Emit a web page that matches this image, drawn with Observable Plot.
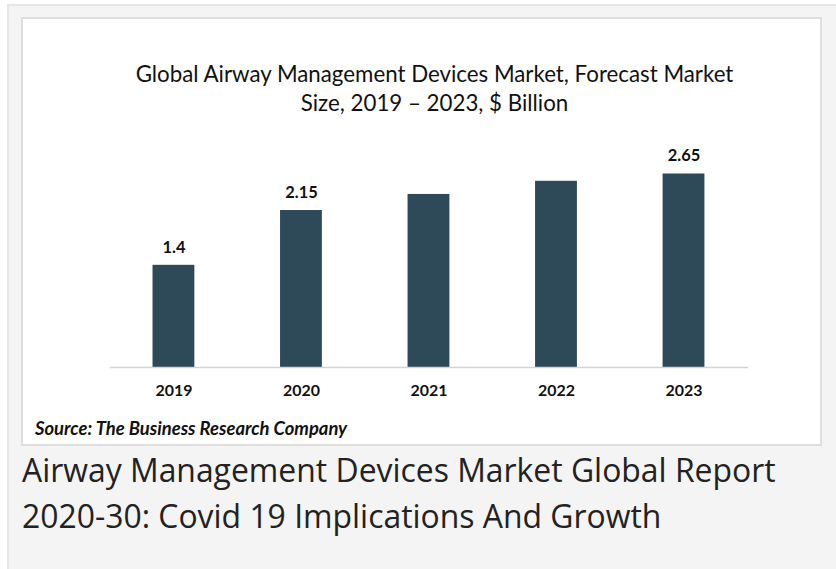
<!DOCTYPE html>
<html>
<head>
<meta charset="utf-8">
<script src="https://cdn.jsdelivr.net/npm/d3@7"></script>
<script src="https://cdn.jsdelivr.net/npm/@observablehq/plot@0.6"></script>
<style>
  html, body { margin: 0; padding: 0; background: #fff; width: 836px; height: 569px; overflow: hidden; }
  #outer { position: absolute; left: 7px; top: 4px; width: 840px; height: 580px; background: #f4f4f4; border: 2px solid #e6e6e6; box-sizing: border-box; }
  #panel { position: absolute; left: 21px; top: 17px; width: 801px; height: 429px; background: #fff; border: 2px solid #dedede; box-sizing: border-box; }
  #title { position: absolute; left: 11px; width: 801px; top: 40px; text-align: center; font-family: Lato, sans-serif; font-size: 22.3px; line-height: 29px; color: #111; }
  #chart { position: absolute; left: -1px; top: 108px; }
  #source { position: absolute; left: 12px; top: 398px; font-family: Lato, sans-serif; font-weight: bold; font-style: italic; font-size: 18.4px; color: #111; }
  #caption { position: absolute; left: 22px; top: 447px; font-family: "Open Sans", sans-serif; font-size: 31.9px; line-height: 46px; color: #222; }
</style>
</head>
<body>
<div id="outer"></div>
<div id="panel">
  <div id="title">Global Airway Management Devices Market, Forecast Market<br>Size, 2019 – 2023, $ Billion</div>
  <div id="chart"></div>
  <div id="source">Source: The Business Research Company</div>
</div>
<div id="caption">Airway Management Devices Market Global Report<br>2020-30: Covid 19 Implications And Growth</div>
<script>
const years = ["2019", "2020", "2021", "2022", "2023"];
const values = [1.4, 2.15, 2.37, 2.55, 2.65];
const valueLabels = ["1.4", "2.15", "", "", "2.65"];

const data = years.map((y, i) => ({year: y, value: values[i], label: valueLabels[i]}));

const chart = Plot.plot({
  width: 801,
  height: 290,
  marginLeft: 88,
  marginRight: 72,
  marginTop: 21,
  marginBottom: 49,
  style: {background: "transparent", fontFamily: "Lato, sans-serif"},
  x: {domain: years, paddingInner: 0.67, paddingOuter: 0.335, label: null},
  y: {domain: [0, 3], axis: null},
  marks: [
    Plot.barY(data, {x: "year", y: "value", fill: "#2e4a59"}),
    Plot.ruleY([0], {stroke: "#d4d4d4", strokeWidth: 1.5}),
    Plot.text(data.filter(d => d.label !== ""), {x: "year", y: "value", text: "label", dy: -18, fontSize: 16.5, fontWeight: "bold", fill: "#111"}),
    Plot.axisX({tickSize: 0, tickPadding: 17, fontSize: 16, fontWeight: "bold", color: "#111", label: null})
  ]
});
document.getElementById("chart").appendChild(chart);
</script>
</body>
</html>
